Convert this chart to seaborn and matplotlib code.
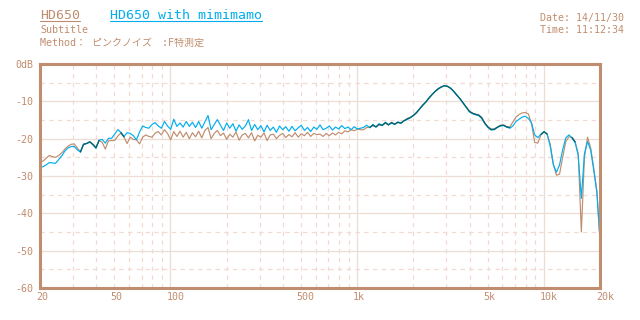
import numpy as np
import pandas as pd
import matplotlib
matplotlib.use('Agg')
import matplotlib.pyplot as plt
import matplotlib.transforms as mtransforms
from matplotlib.lines import Line2D
import seaborn as sns

# ---------------- data ----------------
# sampling grid: 60 points per decade from 20 Hz to 20 kHz
freq = 20 * 10 ** (np.arange(181) / 60)

mimimamo_db = [
    -27.7, -27.5, -27.0, -26.4, -26.5, -26.6, -25.6, -24.6, -23.3, -22.5,
    -22.1, -22.1, -23.0, -23.6, -21.5, -21.3, -20.8, -21.6, -22.6, -20.4,
    -20.2, -21.2, -19.9, -19.9, -18.8, -17.6, -18.3, -19.4, -18.4, -18.6,
    -19.2, -20.3, -18.2, -16.6, -17.0, -17.2, -16.2, -15.7, -16.6, -17.2,
    -15.4, -16.6, -17.5, -14.8, -16.7, -15.8, -16.9, -15.4, -16.7, -15.6,
    -17.0, -15.4, -17.2, -15.5, -13.8, -17.6, -16.2, -14.9,
    -16.4, -17.8, -15.8, -17.2, -16.0, -18.0, -16.3, -17.5, -16.6, -14.9,
    -17.8, -16.2, -17.6, -16.5, -18.2, -16.4, -17.8, -16.9, -18.3, -16.6,
    -17.6, -16.8, -18.0, -16.7, -17.9, -17.1, -16.4, -17.8, -17.0, -18.1,
    -16.9, -17.5, -16.3, -17.6, -17.2, -16.6, -17.7, -16.9, -17.4, -16.5,
    -17.3, -16.9, -17.6, -16.8, -17.4, -17.2,
    -17.0, -16.4, -17.1, -16.2, -16.9, -16.0, -16.5, -15.6, -16.3, -15.8,
    -16.2, -15.5, -15.9, -15.2, -14.9, -14.4, -13.8, -13.0, -12.0, -11.1,
    -10.2, -9.1, -8.2, -7.3, -6.6, -6.1, -5.8, -6.0, -6.5, -7.3,
    -8.3, -9.3, -10.4, -11.6, -12.8, -13.3, -13.6, -13.8, -14.6, -16.0,
    -17.0, -17.7, -17.6, -17.0, -16.6, -16.5, -16.9, -17.2, -16.6, -15.4,
    -14.8, -14.2, -14.0, -14.6,
    -15.8, -19.0, -19.7, -18.8, -18.1, -18.8, -22.0, -27.0, -29.0, -27.0,
    -23.0, -19.8, -19.0, -19.8, -21.0, -24.5, -36.0, -24.0, -20.8, -23.0,
    -28.5, -34.5, -47.0,
]

hd650_db = [
    -26.3, -26.0, -25.2, -24.5, -24.8, -25.0, -24.5, -23.8, -22.8, -22.0,
    -21.5, -21.4, -22.5, -23.5, -21.5, -21.3, -20.9, -21.5, -22.3, -20.5,
    -21.0, -22.8, -20.6, -20.5, -20.5, -19.3, -18.5, -19.6, -21.3, -19.6,
    -20.2, -20.3, -21.4, -19.6, -19.0, -19.4, -19.6, -18.5, -18.1, -19.0,
    -17.6, -18.6, -20.3, -18.1, -19.4, -18.0, -19.6, -18.3, -20.0, -18.4,
    -19.5, -18.0, -19.8, -17.8, -17.0, -20.0, -18.6, -17.8,
    -19.2, -18.5, -20.2, -18.8, -19.6, -18.2, -20.4, -19.0, -18.6, -19.8,
    -18.4, -20.6, -19.1, -19.6, -18.5, -20.5, -19.0, -18.8, -20.0, -19.1,
    -18.6, -19.7, -18.9, -19.5, -18.4, -19.6, -18.7, -19.2, -18.3, -19.4,
    -18.6, -18.9, -18.8, -19.4, -18.6, -19.2, -18.5, -19.0, -18.3, -18.7,
    -17.9, -18.2, -17.6, -17.9, -17.4, -17.6,
    -17.6, -17.0, -16.9, -16.5, -16.8, -16.3, -16.4, -15.8, -16.3, -15.6,
    -16.1, -15.7, -15.8, -15.2, -14.6, -14.3, -13.8, -13.1, -12.1, -11.0,
    -10.2, -9.2, -8.2, -7.4, -6.7, -6.2, -5.8, -6.0, -6.5, -7.4,
    -8.4, -9.3, -10.5, -11.5, -12.6, -13.1, -13.4, -13.6, -14.3, -15.8,
    -16.8, -17.4, -17.4, -16.9, -16.4, -16.3, -16.8, -16.9, -15.5, -14.2,
    -13.5, -13.1, -13.0, -13.4,
    -16.0, -21.0, -21.2, -19.0, -18.2, -18.7, -21.5, -26.8, -29.8, -29.5,
    -25.0, -20.8, -19.5, -19.6, -20.8, -24.0, -45.0, -25.0, -19.6, -22.5,
    -28.0, -34.0, -47.5,
]

x_ticks = [20, 50, 100, 500, 1000, 5000, 10000, 20000]
x_labels = ['20', '50', '100', '500', '1k', '5k', '10k', '20k']
y_ticks = [0, -10, -20, -30, -40, -50, -60]
y_labels = ['0dB', '-10', '-20', '-30', '-40', '-50', '-60']

title_a = 'HD650'
title_b = 'HD650 with mimimamo'
subtitle = 'Subtitle'
method = 'Method： ピンクノイズ\u3000:F特測定'
date_txt = 'Date: 14/11/30'
time_txt = 'Time: 11:12:34'

# ---------------- style ----------------
sns.set_theme(style='white')
plt.rcParams['font.family'] = ['DejaVu Sans Mono', 'Noto Sans CJK JP']

BROWN = '#C08D6F'
BLUE = '#00AEEF'
TEAL = '#00636E'
GRID = '#ECDDD5'
GRID_D = '#F0DAD2'

W, H = 640, 320
fig = plt.figure(figsize=(6.4, 3.2), dpi=100)
fig.patch.set_facecolor('white')
ax = fig.add_axes([40 / W, 32 / H, 560 / W, 224 / H])
ax.set_facecolor('white')

# grid (manual: solid at decades / 10 dB, dashed elsewhere)
major_x = [100, 1000, 10000]
minor_x = [m * d for d in (10, 100, 1000) for m in range(2, 10)
           if 20 <= m * d <= 20000 and m * d not in major_x]
for xv in major_x:
    ax.axvline(xv, color=GRID, lw=0.9, zorder=0)
for xv in minor_x:
    ax.axvline(xv, color=GRID_D, lw=0.9, ls=(0, (3.5, 3.5)), zorder=0)
for yv in range(-50, 0, 10):
    ax.axhline(yv, color=GRID, lw=0.9, zorder=0)
for yv in range(-55, 0, 10):
    ax.axhline(yv, color=GRID_D, lw=0.9, ls=(0, (3.5, 3.5)), zorder=0)

df = pd.DataFrame({
    'freq': np.concatenate([freq, freq]),
    'dB': np.concatenate([hd650_db, mimimamo_db]),
    'series': [title_a] * len(freq) + [title_b] * len(freq),
})
sns.lineplot(data=df, x='freq', y='dB', hue='series',
             palette={title_a: BROWN, title_b: BLUE},
             estimator=None, sort=False, legend=False, lw=0.85, ax=ax, zorder=3)

# overlap colour (where both traces coincide)
b = np.array(mimimamo_db)
r = np.array(hd650_db)
mask = np.abs(b - r) <= 0.35
overlap = np.where(mask, (b + r) / 2, np.nan)
ax.plot(freq, overlap, color=TEAL, lw=0.9, zorder=4)

ax.set_xscale('log')
ax.set_xlim(20, 20000)
ax.set_ylim(-60, 0)
ax.set_xlabel('')
ax.set_ylabel('')
ax.set_xticks(x_ticks)
ax.set_xticklabels(x_labels)
ax.xaxis.set_minor_locator(matplotlib.ticker.NullLocator())
ax.set_yticks(y_ticks)
ax.set_yticklabels(y_labels)
ax.tick_params(axis='both', length=0, labelsize=7.2, colors=BROWN)
ax.tick_params(axis='x', pad=3)
ax.tick_params(axis='y', pad=5)
offset = mtransforms.ScaledTranslation(-3 / 72, 0, fig.dpi_scale_trans)
for lab in ax.get_xticklabels():
    lab.set_horizontalalignment('left')
    lab.set_transform(lab.get_transform() + offset)

for sp in ax.spines.values():
    sp.set_visible(True)
    sp.set_color(BROWN)
    sp.set_linewidth(2.2)
    sp.set_zorder(5)

# ---------------- header texts ----------------
def ftext(x, y, s, **kw):
    return fig.text(x / W, 1 - y / H, s, va='baseline', ha='left', **kw)

ta = ftext(40, 19, title_a, color=BROWN, fontsize=9.5)
tb = ftext(110, 19, title_b, color=BLUE, fontsize=9.5)
ftext(40, 33, subtitle, color=BROWN, fontsize=7.2)
ftext(40, 46, method, color=BROWN, fontsize=7.2)
ftext(540, 21, date_txt, color=BROWN, fontsize=7.2)
ftext(540, 33, time_txt, color=BROWN, fontsize=7.2)

fig.canvas.draw()
rend = fig.canvas.get_renderer()
for t, c in ((ta, BROWN), (tb, BLUE)):
    bb = t.get_window_extent(rend)
    yline = H - 21
    fig.add_artist(Line2D([bb.x0, bb.x1], [yline, yline], transform=None,
                          color=c, lw=0.8))

fig.savefig('out.png', dpi=100, facecolor='white')
